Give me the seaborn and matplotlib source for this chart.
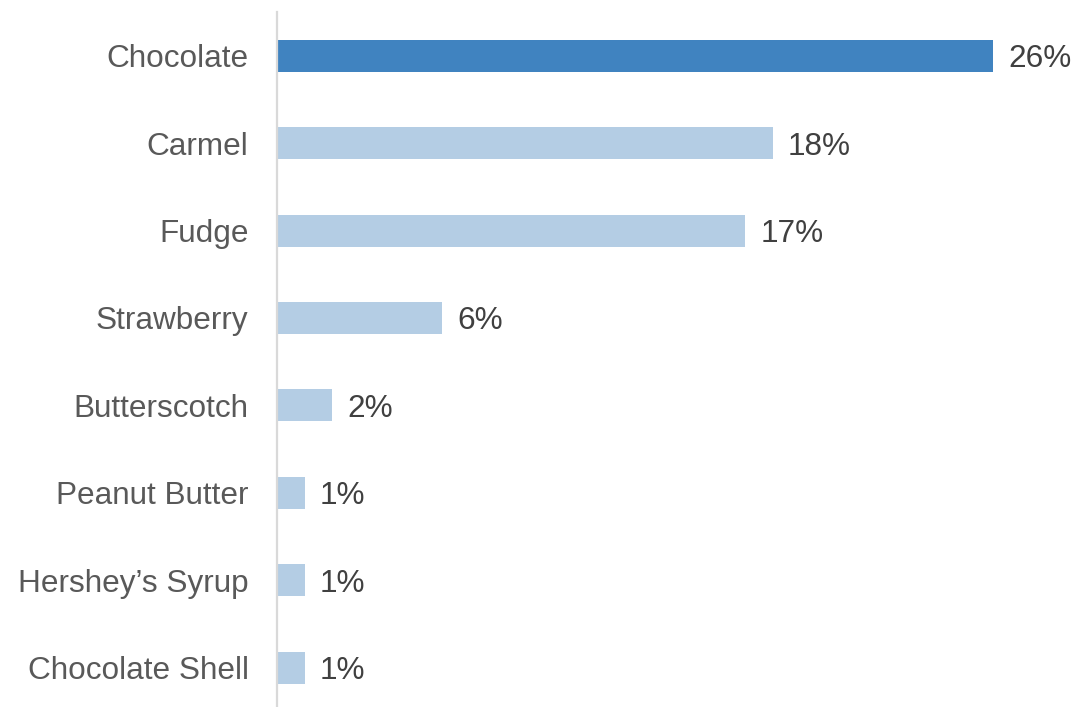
import matplotlib
matplotlib.use("Agg")
import matplotlib.pyplot as plt
import seaborn as sns
import pandas as pd

toppings = ["Chocolate", "Carmel", "Fudge", "Strawberry", "Butterscotch",
            "Peanut Butter", "Hershey\u2019s Syrup", "Chocolate Shell"]
shares = [26, 18, 17, 6, 2, 1, 1, 1]
highlight = ["top", "other", "other", "other", "other", "other", "other", "other"]

df = pd.DataFrame({"topping": toppings, "share": shares, "group": highlight})

sns.set_theme(style="white")
plt.rcParams["font.family"] = ["Liberation Sans", "DejaVu Sans"]

fig = plt.figure(figsize=(10.79, 7.07), dpi=100)
ax = fig.add_axes([277 / 1079, 0.0, 1 - 277 / 1079, 1 - 12 / 707])

sns.barplot(data=df, y="topping", x="share", hue="group",
            palette={"top": "#4083C0", "other": "#B4CDE4"},
            orient="h", width=0.366, dodge=False, legend=False,
            saturation=1, linewidth=0, ax=ax)

ax.set_xlim(0, 29.12)
ax.set_ylim(7.45, -0.5)
ax.set_xlabel("")
ax.set_ylabel("")
ax.set_xticks([])
for side in ["top", "right", "bottom"]:
    ax.spines[side].set_visible(False)
ax.spines["left"].set_color("#D9D9D9")
ax.spines["left"].set_linewidth(1.6)

ax.tick_params(axis="y", length=0, pad=20.5, labelsize=22.7, labelcolor="#595959")
for lbl in ax.get_yticklabels():
    lbl.set_verticalalignment("center_baseline")

for i, v in enumerate(shares):
    ax.annotate(f"{v}%", xy=(v, i), xytext=(11, 0), textcoords="offset points",
                va="center_baseline", ha="left", fontsize=22.7, color="#404040")

fig.savefig("out.png", dpi=100, facecolor="white")
